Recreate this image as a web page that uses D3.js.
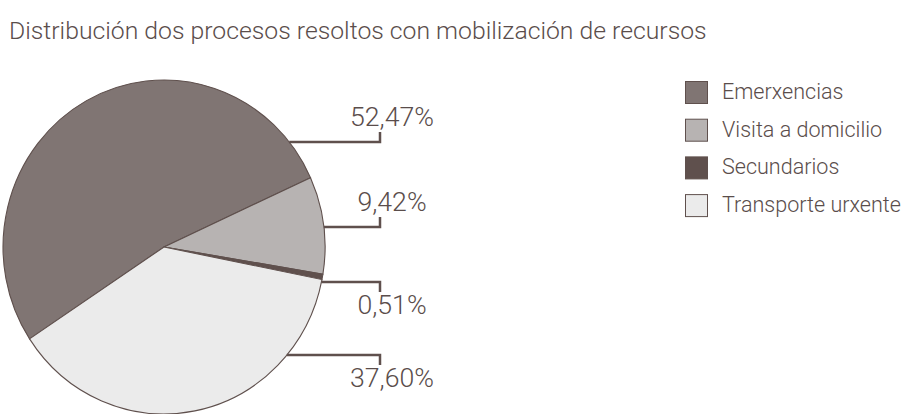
<!DOCTYPE html>
<html lang="gl">
  <head>
    <meta charset="UTF-8" />
    <title>Distribución dos procesos</title>
    <script src="https://d3js.org/d3.v7.min.js"></script>
    <style>
      body { margin: 0; background: #fff; }
      text { font-family: Roboto, "Open Sans", sans-serif; font-weight: 300; fill: #5a4d4b; }
    </style>
  </head>
  <body>
    <div id="chart"></div>
    <script>
      // data
      const categories = ["Emerxencias", "Visita a domicilio", "Secundarios", "Transporte urxente"];
      const values = [52.47, 9.42, 0.51, 37.6];
      const labels = ["52,47%", "9,42%", "0,51%", "37,60%"];
      const colors = ["#807573", "#b7b3b2", "#5f504d", "#ebebeb"];

      // layout
      const width = 903, height = 414;
      const cx = 164, cy = 247, rx = 161, ry = 167;
      const leaderY = [142, 227, 282, 355];
      const leaderAbove = [true, true, false, false];
      const tickX = 380, labelX = 392;

      const svg = d3.select("#chart").append("svg")
        .attr("width", width).attr("height", height);

      // shrink/grow a text selection so its widest item hits a target width
      function fitFont(sel, base, target) {
        let w = 0;
        sel.each(function () { w = Math.max(w, this.getComputedTextLength()); });
        sel.style("font-size", (base * target / w) + "px");
      }

      // title
      const title = svg.append("text")
        .attr("x", 9).attr("y", 39)
        .style("font-size", "20px")
        .text("Distribución dos procesos resoltos con mobilización de recursos");
      fitFont(title, 20, 698);

      // pie (unit radius, stretched to the ellipse)
      const pie = d3.pie().sort(null).value(d => d)
        .startAngle(-123.4 * Math.PI / 180)
        .endAngle(236.6 * Math.PI / 180);
      const arc = d3.arc().innerRadius(0).outerRadius(1);

      svg.append("g")
        .attr("transform", `translate(${cx},${cy}) scale(${rx},${ry})`)
        .selectAll("path")
        .data(pie(values))
        .join("path")
        .attr("d", arc)
        .attr("fill", (d, i) => colors[i])
        .attr("stroke", "#5f504d")
        .attr("stroke-width", 1.1)
        .attr("vector-effect", "non-scaling-stroke");

      // leader lines
      const edgeX = y => cx + rx * Math.sqrt(1 - Math.pow((y - cy) / ry, 2));
      const lead = svg.append("g");
      leaderY.forEach((y, i) => {
        const dy = leaderAbove[i] ? -10 : 10;
        lead.append("path")
          .attr("d", `M${edgeX(y)},${y}H${tickX}V${y + dy}`)
          .attr("fill", "none")
          .attr("stroke", "#5f504d")
          .attr("stroke-width", 2.5);
      });
      const pct = lead.selectAll("text")
        .data(labels)
        .join("text")
        .attr("x", labelX)
        .attr("y", (d, i) => leaderAbove[i] ? leaderY[i] - 16 : leaderY[i] + 32)
        .attr("text-anchor", "middle")
        .style("font-size", "24px")
        .text(d => d);
      fitFont(pct, 24, 84);

      // legend
      const legend = svg.append("g").attr("transform", "translate(685,81)");
      const item = legend.selectAll("g")
        .data(categories)
        .join("g")
        .attr("transform", (d, i) => `translate(0,${i * 37.7})`);
      item.append("rect")
        .attr("x", 0.5).attr("y", 0.5)
        .attr("width", 22).attr("height", 22)
        .attr("fill", (d, i) => colors[i])
        .attr("stroke", "#5f504d")
        .attr("stroke-width", 1);
      const legText = item.append("text")
        .attr("x", 37).attr("y", 18)
        .style("font-size", "18px")
        .text(d => d);
      fitFont(legText, 18, 179);
    </script>
  </body>
</html>
